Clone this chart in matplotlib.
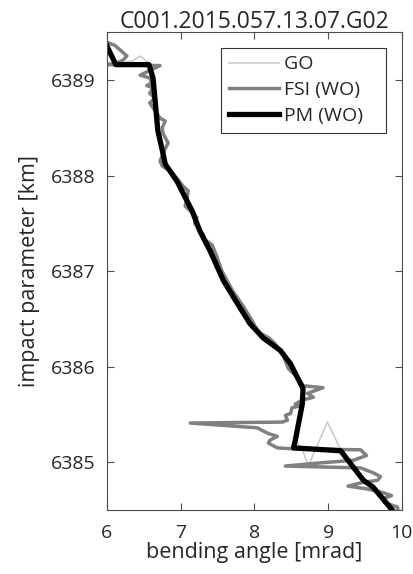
import numpy as np
import matplotlib.pyplot as plt

plt.rcParams['font.family'] = ['Open Sans', 'DejaVu Sans']

title = 'C001.2015.057.13.07.G02'

# PM (WO) retrieval
pm_ba = [5.99, 6.12, 6.57, 6.625, 6.65, 6.69, 6.76, 6.79, 6.95, 7.155, 7.26, 7.40,
         7.58, 7.77, 7.94, 8.12, 8.35, 8.49, 8.555, 8.66, 8.65, 8.555, 8.53, 9.17,
         9.30, 9.48, 9.61, 9.88]
pm_ip = [6389.37, 6389.16, 6389.16, 6389.02, 6388.81, 6388.47, 6388.23, 6388.12,
         6387.94, 6387.63, 6387.42, 6387.21, 6386.90, 6386.66, 6386.45, 6386.30,
         6386.17, 6386.03, 6385.93, 6385.77, 6385.61, 6385.23, 6385.15, 6385.12,
         6384.99, 6384.81, 6384.74, 6384.49]

# FSI (WO) retrieval
fsi_ba = [6.01, 6.11, 6.27, 6.22, 6.14, 6.00, 6.72, 6.45, 6.58, 6.61, 6.54, 6.625,
          6.58, 6.65, 6.58, 6.72, 6.79, 6.75, 6.76, 6.83, 6.79, 6.76, 6.72, 6.75,
          6.88, 6.95, 7.03, 7.10, 7.09, 7.06, 7.13, 7.22, 7.19, 7.30, 7.33, 7.43,
          7.49, 7.56, 7.63, 7.70, 7.77, 7.85, 7.97, 8.01, 8.08, 8.20, 8.28, 8.38,
          8.46, 8.58, 8.66, 8.93, 8.72, 8.80, 8.65, 8.555, 8.62, 8.51, 8.49, 8.42,
          8.45, 8.38, 7.13, 8.04, 8.11, 8.19, 8.31, 8.21, 8.19, 8.31, 8.53, 9.44,
          9.52, 9.34, 8.85, 8.42, 9.44, 9.61, 9.71, 9.67, 9.48, 9.27, 9.53, 9.75,
          9.86, 9.74, 9.76, 9.94, 9.95]
fsi_ip = [6389.39, 6389.36, 6389.25, 6389.21, 6389.18, 6389.16, 6389.15, 6389.05,
          6389.02, 6388.97, 6388.94, 6388.92, 6388.86, 6388.81, 6388.76, 6388.60,
          6388.57, 6388.50, 6388.44, 6388.34, 6388.28, 6388.23, 6388.15, 6388.10,
          6388.03, 6387.97, 6387.89, 6387.84, 6387.77, 6387.68, 6387.63, 6387.56,
          6387.50, 6387.39, 6387.33, 6387.27, 6387.15, 6387.00, 6386.90, 6386.80,
          6386.72, 6386.63, 6386.48, 6386.42, 6386.35, 6386.30, 6386.24, 6386.14,
          6385.98, 6385.89, 6385.80, 6385.78, 6385.72, 6385.68, 6385.65, 6385.61,
          6385.59, 6385.57, 6385.51, 6385.49, 6385.44, 6385.42, 6385.41, 6385.36,
          6385.33, 6385.30, 6385.27, 6385.23, 6385.20, 6385.15, 6385.14, 6385.13,
          6385.07, 6385.02, 6384.99, 6384.96, 6384.94, 6384.89, 6384.85, 6384.81,
          6384.79, 6384.75, 6384.72, 6384.68, 6384.65, 6384.62, 6384.58, 6384.53,
          6384.49]

# GO (geometric optics)
go_ba = [5.99, 6.12, 6.35, 6.45, 6.56, 6.625, 6.65, 6.69, 6.76, 6.79, 6.95, 7.155,
         7.26, 7.40, 7.58, 7.77, 7.94, 8.12, 8.35, 8.49, 8.555, 8.66, 8.65, 8.555,
         8.65, 8.73, 8.99, 9.19, 9.30, 9.48, 9.61, 9.88]
go_ip = [6389.39, 6389.17, 6389.20, 6389.25, 6389.18, 6389.02, 6388.81, 6388.47,
         6388.23, 6388.12, 6387.94, 6387.63, 6387.42, 6387.21, 6386.90, 6386.66,
         6386.45, 6386.30, 6386.17, 6386.03, 6385.93, 6385.77, 6385.61, 6385.23,
         6385.14, 6384.96, 6385.42, 6385.10, 6384.99, 6384.81, 6384.74, 6384.49]

fig = plt.figure(figsize=(4.13, 5.74), dpi=100)
ax = fig.add_axes([0.259, 0.1115, 0.714, 0.8325])

ax.plot(go_ba, go_ip, color='#c8c8c8', lw=1.1, label='GO   ')
ax.plot(fsi_ba, fsi_ip, color='#808080', lw=2.5, label='FSI (WO)   ')
ax.plot(pm_ba, pm_ip, color='black', lw=3.8, label='PM (WO)   ')

ax.set_xlim(6, 10)
ax.set_ylim(6384.5, 6389.5)
ax.set_xticks([6, 7, 8, 9, 10])
ax.set_yticks([6385, 6386, 6387, 6388, 6389])
ax.ticklabel_format(useOffset=False, style='plain')

txt = '#262626'
ax.tick_params(direction='in', top=True, right=True, length=5, width=0.8,
               labelsize=14, colors='#4d4d4d', labelcolor=txt)
ax.tick_params(axis='x', pad=10)
ax.tick_params(axis='y', pad=8)
for s in ax.spines.values():
    s.set_color('#4d4d4d')
    s.set_linewidth(0.8)

ax.set_xlabel('bending angle [mrad]', fontsize=15.5, color=txt, labelpad=0)
ax.set_ylabel('impact parameter [km]', fontsize=15.5, color=txt, labelpad=8)
ax.set_title(title, fontsize=16.5, color=txt, pad=3)

leg = ax.legend(loc='upper right', fontsize=14, frameon=True, fancybox=False,
                edgecolor='black', handlelength=2.6, handletextpad=0.25,
                borderpad=0.4, labelspacing=0.4, borderaxespad=0.8)
leg.get_frame().set_linewidth(0.8)
for t in leg.get_texts():
    t.set_color(txt)

fig.savefig('out.png', dpi=100)
